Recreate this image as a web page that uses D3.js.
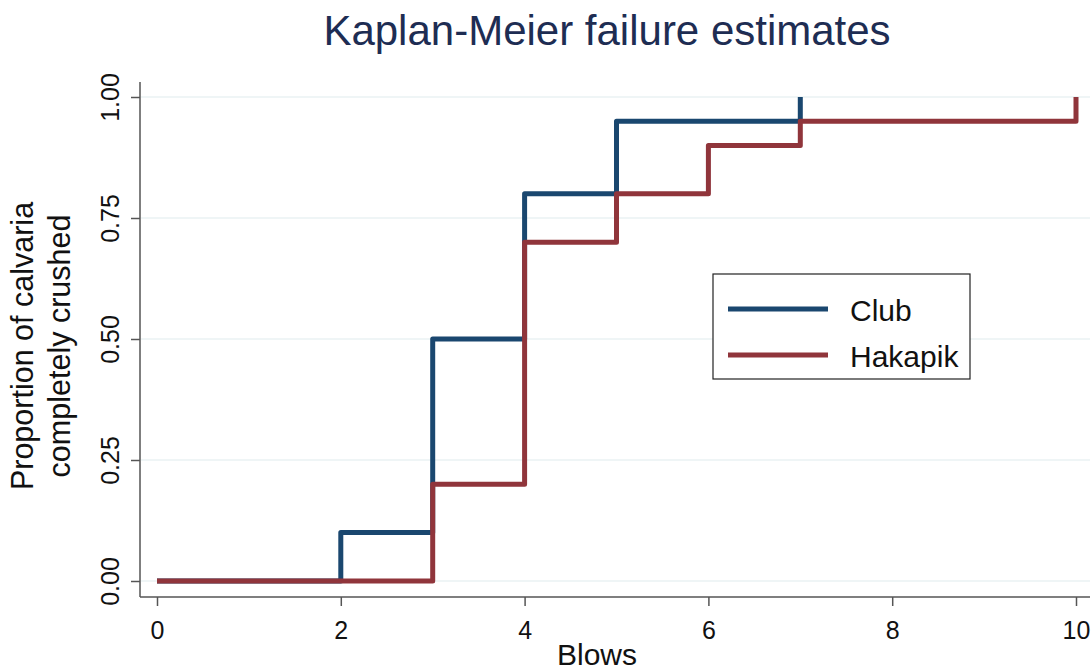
<!DOCTYPE html>
<html><head><meta charset="utf-8">
<script src="https://cdn.jsdelivr.net/npm/d3@7"></script>
<style>body{margin:0;background:#fff}svg{display:block}text{font-family:"Liberation Sans",Arial,sans-serif}</style>
</head><body><svg id="c" width="1092" height="672"></svg>
<script>
const title = "Kaplan-Meier failure estimates";
const xTitle = "Blows";
const yTitleLines = ["Proportion of calvaria", "completely crushed"];
const xTicks = [0, 2, 4, 6, 8, 10];
const yTicks = [0, 0.25, 0.5, 0.75, 1];
const clubTimes = [0, 2, 3, 4, 5, 7];
const clubValues = [0, 0.1, 0.5, 0.8, 0.95, 1.0];
const hakTimes = [0, 3, 4, 5, 6, 7, 10];
const hakValues = [0, 0.2, 0.7, 0.8, 0.9, 0.95, 1.0];
const seriesNames = ["Club", "Hakapik"];
const seriesColors = ["#1a476f", "#90353b"];

const FONT = '"Liberation Sans",Arial,sans-serif';
const svg = d3.select("#c");
const x = d3.scaleLinear().domain([0, 10]).range([157, 1076]);
const y = d3.scaleLinear().domain([0, 1]).range([581, 97]);

// gridlines
svg.append("g").selectAll("line").data(yTicks).join("line")
  .attr("x1", 141).attr("x2", 1090)
  .attr("y1", d => y(d)).attr("y2", d => y(d))
  .attr("stroke", "#eaf2f3").attr("stroke-width", 1.5);

// x axis
const xAxis = svg.append("g").attr("transform", "translate(0,597)")
  .call(d3.axisBottom(x).tickValues(xTicks).tickSize(9).tickSizeOuter(0));
xAxis.select(".domain").attr("d", "M140,0H1090").attr("stroke", "#555").attr("stroke-width", 1.5);
xAxis.selectAll(".tick line").attr("stroke", "#555").attr("stroke-width", 1.5);
xAxis.selectAll(".tick text").attr("font-size", 25).attr("fill", "#111")
  .style("font-family", FONT).attr("y", 42).attr("dy", null);

// y axis
const yAxis = svg.append("g").attr("transform", "translate(140,0)")
  .call(d3.axisLeft(y).tickValues(yTicks).tickFormat(d3.format(".2f")).tickSize(9).tickSizeOuter(0));
yAxis.select(".domain").attr("d", "M0,82V597").attr("stroke", "#555").attr("stroke-width", 1.5);
yAxis.selectAll(".tick line").attr("stroke", "#555").attr("stroke-width", 1.5);
yAxis.selectAll(".tick text").attr("font-size", 25).attr("fill", "#111")
  .style("font-family", FONT)
  .attr("x", 0).attr("y", 0).attr("dy", null).attr("text-anchor", "middle")
  .attr("transform", "translate(-21.5,0) rotate(-90)");

// step lines
const line = d3.line().x(d => x(d[0])).y(d => y(d[1])).curve(d3.curveStepAfter);
const series = [
  clubTimes.map((t, i) => [t, clubValues[i]]),
  hakTimes.map((t, i) => [t, hakValues[i]])
];
svg.append("g").selectAll("path").data(series).join("path")
  .attr("d", line).attr("fill", "none")
  .attr("stroke", (d, i) => seriesColors[i]).attr("stroke-width", 5)
  .attr("stroke-linejoin", "round");

// titles
svg.append("text").attr("x", 607).attr("y", 45).attr("text-anchor", "middle")
  .attr("font-size", 42).attr("fill", "#1e2d53").text(title);
svg.append("text").attr("x", 597).attr("y", 665).attr("text-anchor", "middle")
  .attr("font-size", 30).attr("fill", "#111").text(xTitle);
svg.append("g").attr("transform", "translate(0,346) rotate(-90)")
  .selectAll("text").data(yTitleLines).join("text")
  .attr("x", 0).attr("y", (d, i) => 33 + i * 37).attr("text-anchor", "middle")
  .attr("font-size", 30.5).attr("fill", "#111").text(d => d);

// legend
const lg = svg.append("g");
lg.append("rect").attr("x", 713).attr("y", 274).attr("width", 257).attr("height", 105)
  .attr("fill", "#fff").attr("stroke", "#222").attr("stroke-width", 1.2);
seriesNames.forEach((n, i) => {
  const yy = 309 + i * 46;
  lg.append("line").attr("x1", 728).attr("x2", 828).attr("y1", yy).attr("y2", yy)
    .attr("stroke", seriesColors[i]).attr("stroke-width", 5);
  lg.append("text").attr("x", 850).attr("y", 321 + i * 46)
    .attr("font-size", 30).attr("fill", "#111").text(n);
});
</script></body></html>
